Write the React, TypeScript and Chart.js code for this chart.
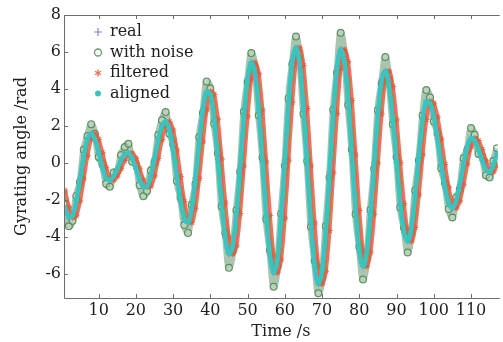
import React, { useEffect, useRef } from 'react';
import { Chart, registerables } from 'chart.js';

Chart.register(...registerables);

const times = [
  1, 2, 3, 4, 5, 6, 7, 8, 9, 10, 11, 12, 13, 14, 15, 16, 17, 18, 19, 20,
  21, 22, 23, 24, 25, 26, 27, 28, 29, 30, 31, 32, 33, 34, 35, 36, 37, 38, 39, 40,
  41, 42, 43, 44, 45, 46, 47, 48, 49, 50, 51, 52, 53, 54, 55, 56, 57, 58, 59, 60,
  61, 62, 63, 64, 65, 66, 67, 68, 69, 70, 71, 72, 73, 74, 75, 76, 77, 78, 79, 80,
  81, 82, 83, 84, 85, 86, 87, 88, 89, 90, 91, 92, 93, 94, 95, 96, 97, 98, 99, 100,
  101, 102, 103, 104, 105, 106, 107, 108, 109, 110, 111, 112, 113, 114, 115, 116, 117,
];

const realValues = [
  -2.45, -2.97, -2.83, -2.03, -0.83, 0.41, 1.31, 1.6, 1.28, 0.57,
  -0.24, -0.82, -0.94, -0.72, -0.31, 0.13, 0.46, 0.54, 0.26, -0.3,
  -0.91, -1.3, -1.27, -0.71, 0.24, 1.26, 2.01, 2.25, 1.79, 0.7,
  -0.72, -2.08, -3.01, -3.23, -2.46, -0.84, 1.15, 2.9, 3.86, 3.72,
  2.38, 0.22, -2.15, -4.04, -4.92, -4.49, -2.74, -0.17, 2.52, 4.58,
  5.44, 4.83, 2.86, 0.05, -2.84, -5.03, -5.94, -5.24, -2.99, 0.15,
  3.29, 5.54, 6.24, 5.28, 2.95, -0.15, -3.25, -5.58, -6.54, -5.86,
  -3.66, -0.53, 2.68, 5.13, 6.14, 5.49, 3.39, 0.43, -2.57, -4.79,
  -5.6, -4.84, -2.78, -0.01, 2.67, 4.51, 4.98, 4.14, 2.34, 0.02,
  -2.21, -3.76, -4.24, -3.49, -1.73, 0.45, 2.36, 3.34, 3.24, 2.49,
  1.3, -0.08, -1.33, -2.19, -2.45, -2.06, -1.16, -0.05, 0.89, 1.34,
  1.22, 0.74, 0.12, -0.37, -0.49, -0.1, 0.5,
];

const noisyValues = [
  -2.25, -3.42, -3.13, -1.78, -1.03, 0.71, 1.46, 2.1, 1.58, 0.32,
  -0.04, -1.12, -1.29, -0.52, -0.46, 0.43, 0.86, 1.04, 0.06, -0.05,
  -1.21, -1.8, -1.52, -0.41, 0.04, 1.51, 2.31, 2.75, 1.59, 1.0,
  -0.97, -1.88, -3.36, -3.78, -2.26, -1.14, 1.4, 2.7, 4.41, 4.02,
  2.13, 0.52, -2.35, -3.79, -5.67, -4.79, -2.54, -0.47, 2.77, 4.38,
  5.94, 5.13, 2.56, 0.3, -3.04, -4.73, -6.69, -5.59, -2.74, -0.15,
  3.49, 5.34, 6.84, 5.58, 2.65, 0.1, -3.45, -5.28, -7.04, -6.21,
  -3.41, -0.78, 2.88, 4.88, 7.04, 5.84, 3.14, 0.73, -2.77, -4.54,
  -6.3, -5.19, -2.53, -0.31, 2.87, 4.31, 5.73, 4.44, 2.09, 0.32,
  -2.41, -3.51, -4.84, -3.79, -1.48, 0.15, 2.56, 3.94, 3.54, 2.24,
  1.6, -0.28, -1.08, -2.49, -2.95, -1.86, -1.41, 0.25, 0.69, 1.89,
  1.52, 0.49, 0.37, -0.67, -0.79, 0.1, 0.8,
];

const filteredValues = [
  -1.5, -2.4, -2.95, -2.85, -2.05, -0.85, 0.4, 1.3, 1.58, 1.27,
  0.56, -0.25, -0.82, -0.93, -0.71, -0.3, 0.14, 0.46, 0.53, 0.25,
  -0.31, -0.91, -1.29, -1.26, -0.7, 0.25, 1.26, 2.0, 2.24, 1.78,
  0.69, -0.73, -2.08, -3.0, -3.22, -2.45, -0.83, 1.15, 2.89, 3.85,
  3.71, 2.37, 0.21, -2.15, -4.03, -4.91, -4.48, -2.73, -0.16, 2.52,
  4.57, 5.43, 4.82, 2.85, 0.05, -2.84, -5.02, -5.93, -5.23, -2.98,
  0.15, 3.28, 5.53, 6.23, 5.27, 2.94, -0.15, -3.24, -5.57, -6.53,
  -5.85, -3.65, -0.52, 2.67, 5.12, 6.13, 5.48, 3.38, 0.43, -2.56,
  -4.78, -5.59, -4.83, -2.77, 0.0, 2.66, 4.5, 4.97, 4.13, 2.33,
  0.02, -2.2, -3.75, -4.23, -3.48, -1.72, 0.45, 2.35, 3.33, 3.23,
  2.48, 1.29, -0.08, -1.32, -2.18, -2.44, -2.05, -1.15, -0.05, 0.88,
  1.33, 1.21, 0.73, 0.12, -0.36, -0.48, -0.1,
];

const alignedValues = [
  -2.4, -2.95, -2.85, -2.05, -0.85, 0.4, 1.3, 1.58, 1.27, 0.56,
  -0.25, -0.82, -0.93, -0.71, -0.3, 0.14, 0.46, 0.53, 0.25, -0.31,
  -0.91, -1.29, -1.26, -0.7, 0.25, 1.26, 2.0, 2.24, 1.78, 0.69,
  -0.73, -2.08, -3.0, -3.22, -2.45, -0.83, 1.15, 2.89, 3.85, 3.71,
  2.37, 0.21, -2.15, -4.03, -4.91, -4.48, -2.73, -0.16, 2.52, 4.57,
  5.43, 4.82, 2.85, 0.05, -2.84, -5.02, -5.93, -5.23, -2.98, 0.15,
  3.28, 5.53, 6.23, 5.27, 2.94, -0.15, -3.24, -5.57, -6.53, -5.85,
  -3.65, -0.52, 2.67, 5.12, 6.13, 5.48, 3.38, 0.43, -2.56, -4.78,
  -5.59, -4.83, -2.77, 0.0, 2.66, 4.5, 4.97, 4.13, 2.33, 0.02,
  -2.2, -3.75, -4.23, -3.48, -1.72, 0.45, 2.35, 3.33, 3.23, 2.48,
  1.29, -0.08, -1.32, -2.18, -2.44, -2.05, -1.15, -0.05, 0.88, 1.33,
  1.21, 0.73, 0.12, -0.36, -0.48, -0.1, 0.5,
];

const seriesLabels = ['real', 'with noise', 'filtered', 'aligned'];
const xTicks = [10, 20, 30, 40, 50, 60, 70, 80, 90, 100, 110];
const yTicks = [-6, -4, -2, 0, 2, 4, 6, 8];

const FONT = "'DejaVu Serif', 'Liberation Serif', serif";
const COL_BLUE = 'rgba(120,120,205,0.9)';
const COL_GREEN = 'rgba(70,125,75,0.8)';
const COL_GREEN_BAND = 'rgba(85,140,95,0.5)';
const COL_RED = 'rgba(228,92,60,0.85)';
const COL_CYAN = 'rgb(58,196,192)';

function pts(values: number[]) {
  return values.map((v, i) => ({ x: times[i], y: v }));
}

const framePlugin = {
  id: 'frameTicksLegend',
  afterDraw(chart: any) {
    const { ctx, chartArea, scales } = chart;
    const { left, top, right, bottom } = chartArea;
    const xs = scales.x;
    const ys = scales.y;
    ctx.save();
    ctx.strokeStyle = '#6e6e6e';
    ctx.lineWidth = 1;
    ctx.beginPath();
    ctx.moveTo(right + 2, Math.round(top) + 0.5);
    ctx.lineTo(Math.round(left) + 0.5, Math.round(top) + 0.5);
    ctx.lineTo(Math.round(left) + 0.5, Math.round(bottom) + 0.5);
    ctx.lineTo(right + 2, Math.round(bottom) + 0.5);
    for (const v of xTicks) {
      const px = Math.round(xs.getPixelForValue(v)) + 0.5;
      ctx.moveTo(px, bottom);
      ctx.lineTo(px, bottom - 4);
      ctx.moveTo(px, top);
      ctx.lineTo(px, top + 4);
    }
    for (const v of yTicks) {
      const py = Math.round(ys.getPixelForValue(v)) + 0.5;
      ctx.moveTo(left, py);
      ctx.lineTo(left + 4, py);
    }
    ctx.stroke();

    // legend inside plot
    const mx = 98;
    const tx = 110;
    const rows = [32, 52.5, 73, 93.5];
    ctx.font = `16px ${FONT}`;
    ctx.textBaseline = 'middle';
    ctx.textAlign = 'left';
    rows.forEach((ry, i) => {
      ctx.save();
      if (i === 0) {
        ctx.strokeStyle = COL_BLUE;
        ctx.lineWidth = 1.2;
        ctx.beginPath();
        ctx.moveTo(mx - 4, ry);
        ctx.lineTo(mx + 4, ry);
        ctx.moveTo(mx, ry - 4);
        ctx.lineTo(mx, ry + 4);
        ctx.stroke();
      } else if (i === 1) {
        ctx.strokeStyle = COL_GREEN;
        ctx.lineWidth = 1.3;
        ctx.beginPath();
        ctx.arc(mx, ry, 3.5, 0, Math.PI * 2);
        ctx.stroke();
      } else if (i === 2) {
        ctx.strokeStyle = COL_RED;
        ctx.lineWidth = 1.4;
        ctx.beginPath();
        for (let k = 0; k < 3; k++) {
          const a = (k * Math.PI) / 3 + Math.PI / 2;
          ctx.moveTo(mx + Math.cos(a) * 3.5, ry + Math.sin(a) * 3.5);
          ctx.lineTo(mx - Math.cos(a) * 3.5, ry - Math.sin(a) * 3.5);
        }
        ctx.stroke();
      } else {
        ctx.fillStyle = COL_CYAN;
        ctx.beginPath();
        ctx.arc(mx, ry, 3, 0, Math.PI * 2);
        ctx.fill();
      }
      ctx.restore();
      ctx.fillStyle = '#1e1e1e';
      ctx.fillText(seriesLabels[i], tx, ry);
    });
    ctx.restore();
  },
};

export default function App() {
  const canvasRef = useRef<HTMLCanvasElement | null>(null);

  useEffect(() => {
    document.body.style.margin = '0';
    const canvas = canvasRef.current;
    if (!canvas) return;
    const chart = new Chart(canvas, {
      type: 'line',
      data: {
        datasets: [
          {
            label: seriesLabels[3],
            data: pts(alignedValues),
            borderColor: COL_CYAN,
            backgroundColor: COL_CYAN,
            borderWidth: 4.5,
            pointRadius: 2.4,
            pointBorderWidth: 0,
            pointStyle: 'circle',
            cubicInterpolationMode: 'monotone',
            order: 0,
            clip: 0,
          },
          {
            label: seriesLabels[0],
            data: pts(realValues),
            showLine: false,
            borderColor: COL_BLUE,
            backgroundColor: COL_BLUE,
            pointStyle: 'cross',
            pointRadius: 3,
            pointBorderWidth: 1,
            order: 1,
            clip: 0,
          },
          {
            label: seriesLabels[2],
            data: pts(filteredValues),
            borderColor: COL_RED,
            backgroundColor: COL_RED,
            borderWidth: 4,
            pointStyle: 'star',
            pointRadius: 3.2,
            pointBorderWidth: 1.1,
            cubicInterpolationMode: 'monotone',
            order: 2,
            clip: 0,
          },
          {
            label: seriesLabels[1],
            data: pts(noisyValues),
            borderColor: COL_GREEN_BAND,
            backgroundColor: 'rgba(210,230,205,0.4)',
            pointBorderColor: COL_GREEN,
            borderWidth: 7,
            pointStyle: 'circle',
            pointRadius: 3.4,
            pointBorderWidth: 1.2,
            cubicInterpolationMode: 'monotone',
            order: 3,
            clip: 0,
          },
        ],
      },
      options: {
        animation: false,
        responsive: true,
        maintainAspectRatio: false,
        layout: { padding: { top: 15, right: 0, left: 0, bottom: 0 } },
        plugins: {
          legend: { display: false },
          tooltip: { enabled: false },
        },
        scales: {
          x: {
            type: 'linear',
            min: 0.7,
            max: 117.2,
            grid: { display: false, drawTicks: false },
            border: { display: false },
            afterBuildTicks: (s: any) => {
              s.ticks = xTicks.map((v) => ({ value: v }));
            },
            afterFit: (s: any) => {
              s.height = 44;
            },
            ticks: {
              color: '#1e1e1e',
              padding: 3,
              maxRotation: 0,
              autoSkip: false,
              font: { family: FONT, size: 16 },
            },
            title: {
              display: true,
              text: 'Time /s',
              color: '#1e1e1e',
              font: { family: FONT, size: 16 },
              padding: { top: 0, bottom: 1 },
            },
          },
          y: {
            type: 'linear',
            min: -7.3,
            max: 8,
            grid: { display: false, drawTicks: false },
            border: { display: false },
            afterBuildTicks: (s: any) => {
              s.ticks = yTicks.map((v) => ({ value: v }));
            },
            afterFit: (s: any) => {
              s.width = 64;
            },
            ticks: {
              color: '#1e1e1e',
              padding: 3,
              autoSkip: false,
              font: { family: FONT, size: 16 },
            },
            title: {
              display: true,
              text: 'Gyrating angle /rad',
              color: '#1e1e1e',
              font: { family: FONT, size: 16 },
              padding: { top: 12, bottom: 0 },
            },
          },
        },
      },
      plugins: [framePlugin],
    });
    return () => chart.destroy();
  }, []);

  return (
    <div style={{ width: '503px', height: '342px', position: 'relative' }}>
      <canvas ref={canvasRef} />
    </div>
  );
}
